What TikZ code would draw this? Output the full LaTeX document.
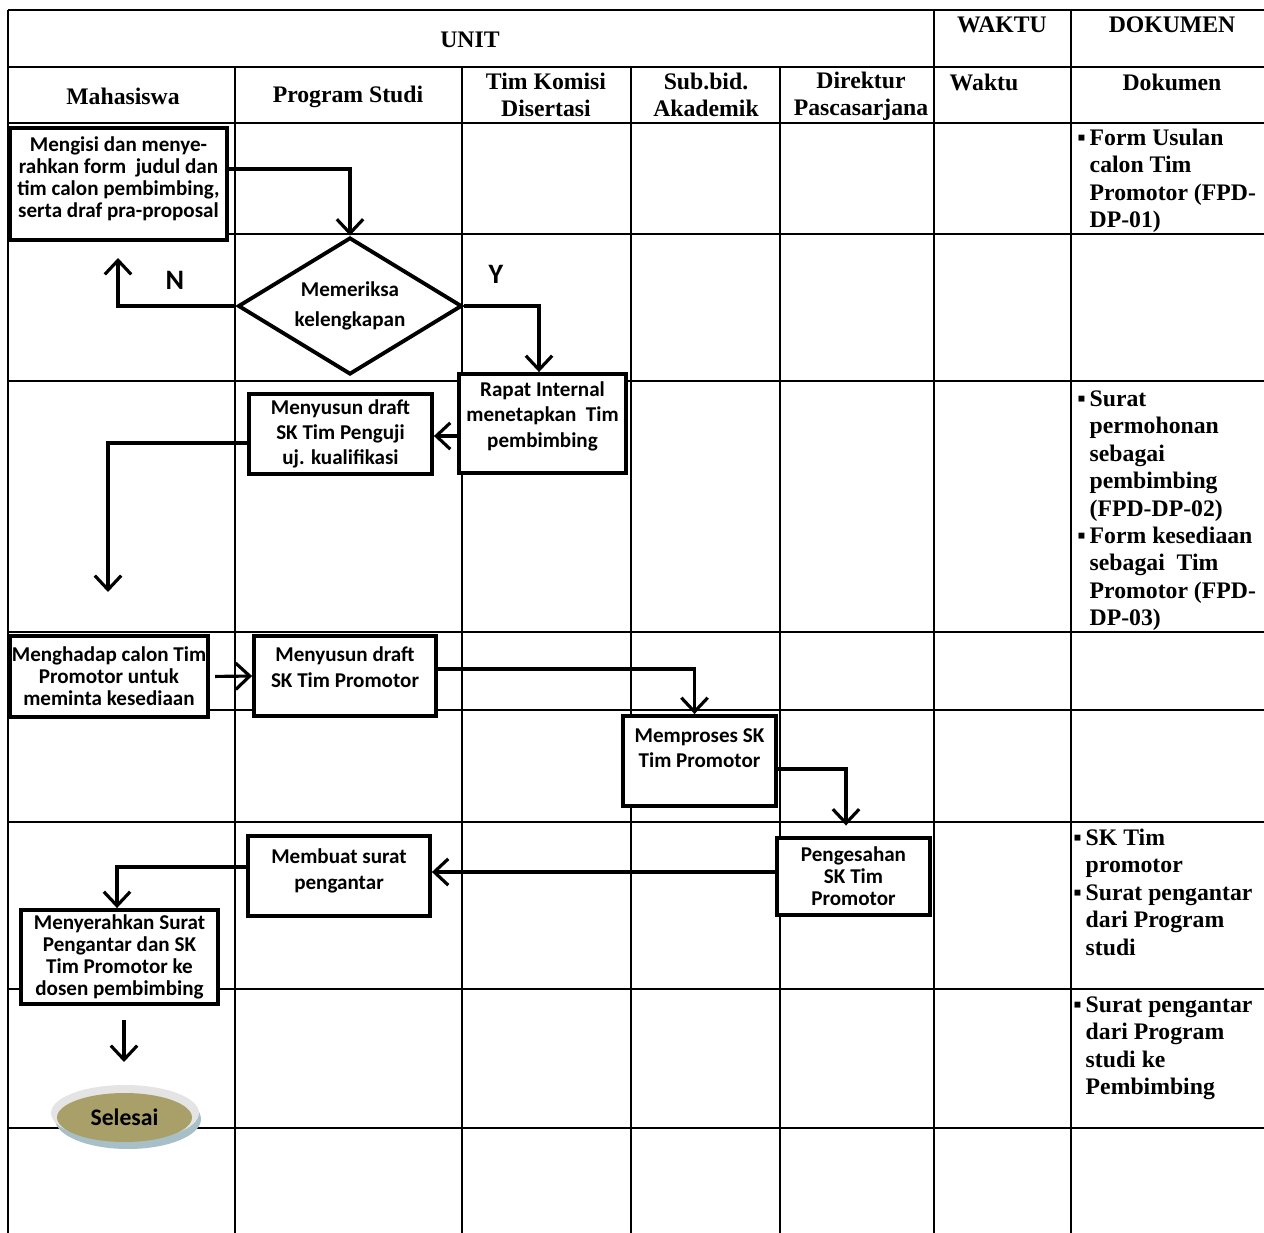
\documentclass[tikz,border=0pt]{standalone}
\usepackage{fontspec}
\setmainfont{Liberation Serif}
\newfontfamily\calib{Carlito}
\usepackage{xcolor}
\usepackage{tikz}
\usetikzlibrary{arrows.meta,shapes.geometric}

\definecolor{olivec}{HTML}{A99F68}
\definecolor{ringc}{HTML}{E4E4E4}
\definecolor{shadowc}{HTML}{A7BFC6}

\begin{document}
\begin{tikzpicture}[x=0.02cm,y=-0.02cm,
	grid/.style={line width=1.1pt},
	head/.style={font=\bfseries\fontsize{13.5}{15.3}\selectfont,align=center,inner sep=0pt},
	doc/.style={anchor=north west,inner sep=0pt,font=\bfseries\fontsize{13.5}{15.6}\selectfont},
	proc/.style={draw,line width=2.2pt,align=center,inner sep=1pt,fill=white,
		font=\calib\bfseries\fontsize{12}{12.6}\selectfont},
	flow/.style={line width=1.8pt,->,>={Straight Barb[length=8pt,width=15pt]}},
	lbl/.style={font=\calib\bfseries\fontsize{16}{18}\selectfont}]
	\useasboundingbox (0,0) rectangle (1264,1233);
	%
	% table
	\foreach \y in {10,67,123,234,381,632,710,822,989,1128}
		\draw[grid] (8,\y) -- (1264,\y);
	\foreach \x in {8,934,1071}
		\draw[grid] (\x,10) -- (\x,1233);
	\foreach \x in {235,462,631,780}
		\draw[grid] (\x,67) -- (\x,1233);
	%
	\node[head] (hUnit) at (470,40) {UNIT};
	\node[head] (hWaktu) at (1002,25) {WAKTU};
	\node[head] (hDokumen) at (1172,25) {DOKUMEN};
	\node[head] (hMhs) at (123,96) {Mahasiswa};
	\node[head] (hProdi) at (348,97) {Program Studi};
	\node[head] (hTim) at (546,95) {Tim Komisi\\Disertasi};
	\node[head] (hSub) at (706,95) {Sub.bid.\\Akademik};
	\node[head] (hDir) at (861,96) {Direktur\\Pascasarjana};
	\node[head] (hWkt) at (984,82) {Waktu};
	\node[head] (hDok) at (1172,82) {Dokumen};
	%
	\node[doc] (doc1) at (1077,126) {\begin{tabular}{@{}l@{\,}l@{}}▪&Form Usulan\\&calon Tim\\&Promotor (FPD-\\&DP-01)\end{tabular}};
	\node[doc] (doc2) at (1077,387) {\begin{tabular}{@{}l@{\,}l@{}}▪&Surat\\&permohonan\\&sebagai\\&pembimbing\\&(FPD-DP-02)\\▪&Form kesediaan\\&sebagai~ Tim\\&Promotor (FPD-\\&DP-03)\end{tabular}};
	\node[doc] (doc3) at (1073,826) {\begin{tabular}{@{}l@{\,}l@{}}▪&SK Tim\\&promotor\\▪&Surat pengantar\\&dari Program\\&studi\end{tabular}};
	\node[doc] (doc4) at (1073,993) {\begin{tabular}{@{}l@{\,}l@{}}▪&Surat pengantar\\&dari Program\\&studi ke\\&Pembimbing\end{tabular}};
	%
	% flow
	\node[proc,minimum width=4.34cm,minimum height=2.24cm] (m1) at (118.5,184) {Mengisi dan menye-\\rahkan form~ judul dan\\tim calon pembimbing,\\serta draf pra-proposal\\[-5pt]};
	\node[proc,shape=diamond,aspect=1.6,minimum width=4.48cm,minimum height=2.74cm,inner sep=0pt,
		font=\calib\bfseries\fontsize{12}{17}\selectfont] (d1) at (350,306) {Memeriksa\\kelengkapan};
	\node[proc,minimum width=3.34cm,minimum height=1.98cm,font=\calib\bfseries\fontsize{12}{14.5}\selectfont] (b2) at (542.5,423.5) {Rapat Internal\\menetapkan~ Tim\\pembimbing\\[-4pt]};
	\node[proc,minimum width=3.66cm,minimum height=1.6cm,font=\calib\bfseries\fontsize{12}{14.3}\selectfont] (b3) at (340.5,434) {Menyusun draft\\SK Tim Penguji\\uj. kualifikasi};
	\node[proc,minimum width=3.96cm,minimum height=1.62cm] (b4) at (109,676.5) {Menghadap calon Tim\\Promotor untuk\\meminta kesediaan};
	\node[proc,minimum width=3.64cm,minimum height=1.6cm,font=\calib\bfseries\fontsize{12}{14.5}\selectfont] (b5) at (345,676) {Menyusun draft\\SK Tim Promotor\\[-4.5pt]};
	\node[proc,minimum width=3.06cm,minimum height=1.8cm,font=\calib\bfseries\fontsize{12}{14.5}\selectfont] (b6) at (699.5,761) {Memproses SK\\Tim Promotor\\[0pt]};
	\node[proc,minimum width=3.06cm,minimum height=1.54cm] (b7) at (853.5,876.5) {Pengesahan\\SK Tim\\Promotor};
	\node[proc,minimum width=3.64cm,minimum height=1.6cm,font=\calib\bfseries\fontsize{12}{14.5}\selectfont] (b8) at (339,876) {Membuat surat\\pengantar\\[-6.4pt]};
	\node[proc,minimum width=3.94cm,minimum height=1.88cm] (b9) at (119.5,957) {Menyerahkan Surat\\Pengantar dan SK\\Tim Promotor ke\\dosen pembimbing};
	%
	\node[ellipse,fill=shadowc,minimum width=2.92cm,minimum height=1.2cm] (endShadow) at (128,1119) {};
	\node[ellipse,fill=ringc,minimum width=2.96cm,minimum height=1.12cm] (endRing) at (125,1113) {};
	\node[ellipse,fill=olivec,minimum width=2.7cm,minimum height=0.98cm,
		font=\calib\bfseries\fontsize{13.5}{15}\selectfont] (end) at (124.5,1117.5) {Selesai};
	%
	\coordinate (nUp) at (118,258);
	\coordinate (down1) at (108,592);
	\coordinate (endA) at (124,1020);
	\coordinate (endB) at (124,1062);
	%
	\node[lbl] (lN) at (175,280) {N};
	\node[lbl] (lY) at (496,274) {Y};
	%
	\draw[flow] (m1.east |- 0,169) -| (d1.north);
	\draw[flow] (d1.west) -| (nUp);
	\draw[flow] (d1.east) -| ([xshift=-0.07cm]b2.north);
	\draw[flow] (b2.west |- 0,436) -- (b3.east |- 0,436);
	\draw[flow] (b3.west |- 0,443) -| (down1);
	\draw[flow,shorten <=3pt] (b4.east) -- (b5.west);
	\draw[flow] (b5.east |- 0,669) -| ([xshift=-0.1cm]b6.north);
	\draw[flow,shorten >=6pt] (b6.east |- 0,769) -| ([xshift=-0.15cm]b7.north);
	\draw[flow] (b7.west |- 0,872) -- (b8.east |- 0,872);
	\draw[flow] (b8.west |- 0,867) -| ([xshift=-0.05cm]b9.north);
	\draw[flow] (endA) -- (endB);
\end{tikzpicture}
\end{document}
